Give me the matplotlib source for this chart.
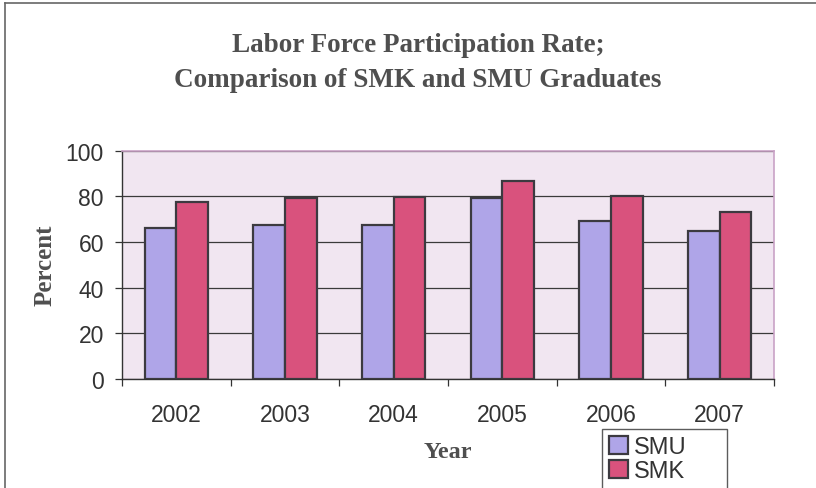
import matplotlib
matplotlib.use("Agg")
import matplotlib.pyplot as plt
from matplotlib.lines import Line2D
import numpy as np

years = ["2002", "2003", "2004", "2005", "2006", "2007"]
smu = [66.0, 67.5, 67.6, 79.5, 69.0, 65.0]
smk = [77.7, 79.5, 79.8, 86.7, 80.2, 73.0]
y_ticks = [0, 20, 40, 60, 80, 100]

W, H = 816, 489
fig = plt.figure(figsize=(W / 100, H / 100), dpi=100)
fig.patch.set_facecolor("white")

# outer chart frame (top and left edges)
fig.add_artist(Line2D([5 / W, 5 / W], [0, 1 - 4 / H], transform=fig.transFigure,
                      color="#666666", lw=1.2))
fig.add_artist(Line2D([5 / W, 1], [1 - 4 / H, 1 - 4 / H], transform=fig.transFigure,
                      color="#666666", lw=1.2))

left, right, top, bottom = 122, 774, 151.7, 380
ax = fig.add_axes([left / W, 1 - bottom / H, (right - left) / W, (bottom - top) / H])
ax.set_facecolor("#f1e6f1")

x = np.arange(len(years))
bw = 0.29
edge = "#3c3a40"
ax.bar(x - bw / 2, smu, width=bw, color="#afa5e8", edgecolor=edge, linewidth=1.6,
       label="SMU", zorder=3)
ax.bar(x + bw / 2, smk, width=bw, color="#d9527d", edgecolor=edge, linewidth=1.6,
       label="SMK", zorder=3)

ax.set_xlim(-0.5, len(years) - 0.5)
ax.set_ylim(0, 100)
ax.set_yticks(y_ticks)
ax.yaxis.grid(True, color="#3a3a3a", linewidth=0.9, zorder=1)
ax.set_axisbelow(True)

ax.set_xticks(x)
ax.set_xticklabels(years)
ax.set_xticks(np.arange(-0.5, len(years)), minor=True)
ax.tick_params(axis="x", which="major", length=0, pad=17, labelsize=16.5,
               labelcolor="#333333")
ax.tick_params(axis="x", which="minor", length=5, width=0.9, color="#333333",
               direction="out")
ax.tick_params(axis="y", length=5, width=0.9, color="#333333", pad=8,
               labelsize=16.5, labelcolor="#333333")
for lab in ax.get_xticklabels() + ax.get_yticklabels():
    lab.set_fontfamily("Liberation Sans")

for side in ("left", "bottom"):
    ax.spines[side].set_color("#333333")
    ax.spines[side].set_linewidth(1.0)
for side in ("top", "right"):
    ax.spines[side].set_color("#c9a2c6")
    ax.spines[side].set_linewidth(1.2)

serif = {"family": "Liberation Serif", "weight": "bold", "color": "#4f4f4f"}
fig.text(418 / W, 1 - 63 / H,
         "Labor Force Participation Rate;\nComparison of SMK and SMU Graduates",
         ha="center", va="center", fontsize=19.5, linespacing=1.5,
         fontdict=serif)
fig.text(45 / W, 1 - 265 / H, "Percent", rotation=90, ha="center", va="center",
         fontsize=18, fontdict=serif)
fig.text(448 / W, 1 - 453 / H, "Year", ha="center", va="center", fontsize=17.5,
         fontdict=serif)

leg_top = 1 - 430 / H
leg = fig.legend(loc="upper left", mode="expand",
                 bbox_to_anchor=(602 / W, 0, 125 / W, leg_top),
                 bbox_transform=fig.transFigure, frameon=True, fancybox=False,
                 prop={"family": "Liberation Sans", "size": 17},
                 handlelength=0.8, handleheight=0.8, handletextpad=0.25,
                 labelspacing=0.05, borderpad=0.3, borderaxespad=0)
leg.get_frame().set_edgecolor("#333333")
leg.get_frame().set_linewidth(1.0)
for t in leg.get_texts():
    t.set_color("#333333")

fig.savefig("out.png", dpi=100)
